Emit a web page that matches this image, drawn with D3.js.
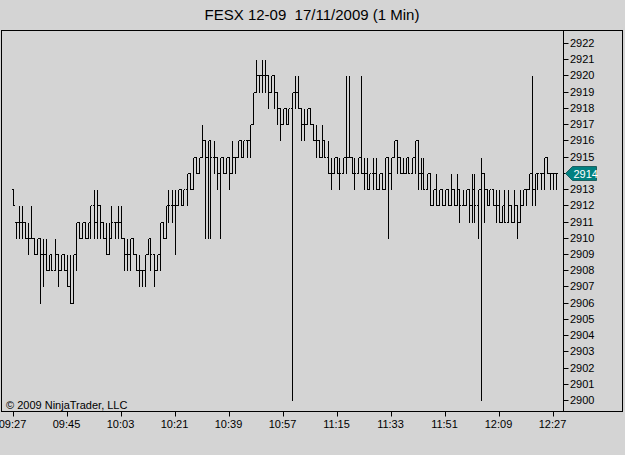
<!DOCTYPE html>
<html>
<head>
<meta charset="utf-8">
<script src="https://cdn.jsdelivr.net/npm/d3@7"></script>
<style>
  body { margin: 0; background: #d4d4d4; }
  svg { display: block; font-family: "Liberation Sans", Arial, sans-serif; }
</style>
</head>
<body>
<div id="chart"></div>
<script>
// 1 minute bars, FESX 12-09, 17/11/2009, first bar at 09:27
const opens = [
  2913,2911,2911,2911,2911,2910,2910,2910,2909,2910,2909,2909,2908,2909,2908,2909,2908,2909,2908,2907,
  2906,2909,2911,2910,2911,2910,2911,2912,2911,2912,2911,2910,2909,2910,2911,2911,2911,2910,2909,2909,
  2910,2909,2908,2908,2908,2909,2910,2909,2908,2909,2911,2910,2912,2912,2912,2912,2913,2912,2913,2914,
  2913,2915,2914,2915,2916,2915,2916,2915,2915,2914,2915,2914,2915,2914,2915,2915,2916,2915,2916,2916,
  2917,2919,2920,2920,2920,2920,2919,2920,2919,2918,2917,2918,2917,2918,2919,2919,2918,2917,2917,2918,
  2917,2916,2916,2915,2916,2915,2914,2914,2915,2914,2914,2915,2915,2915,2914,2914,2915,2914,2914,2913,
  2914,2914,2913,2914,2913,2915,2914,2915,2916,2915,2914,2914,2915,2914,2915,2916,2914,2914,2913,2914,
  2912,2913,2912,2913,2912,2913,2912,2913,2912,2913,2912,2912,2913,2912,2913,2912,2913,2914,2913,2912,
  2913,2912,2912,2911,2912,2911,2912,2911,2912,2911,2912,2913,2913,2914,2913,2914,2914,2914,2915,2914,
  2914,2914
];
const highs = [
  2913,2911,2912,2912,2911,2911,2912,2910,2910,2910,2910,2910,2909,2909,2910,2909,2909,2909,2909,2909,
  2909,2911,2911,2911,2911,2911,2912,2913,2913,2912,2911,2911,2911,2912,2911,2912,2912,2910,2910,2910,
  2910,2909,2909,2908,2909,2910,2910,2909,2909,2911,2911,2912,2913,2913,2913,2913,2913,2913,2914,2914,
  2915,2915,2915,2917,2916,2916,2916,2916,2915,2915,2915,2915,2915,2916,2915,2916,2916,2916,2916,2917,
  2919,2921,2920,2921,2921,2920,2920,2920,2919,2918,2918,2918,2918,2919,2920,2920,2918,2918,2918,2918,
  2917,2917,2916,2917,2916,2916,2915,2915,2915,2915,2915,2920,2920,2915,2915,2915,2920,2915,2915,2914,
  2915,2915,2914,2914,2915,2915,2915,2916,2916,2915,2915,2915,2915,2915,2916,2916,2915,2915,2914,2914,
  2913,2914,2913,2913,2913,2913,2914,2913,2914,2913,2913,2913,2913,2914,2914,2913,2915,2914,2913,2913,
  2913,2913,2913,2912,2913,2913,2912,2913,2912,2913,2913,2913,2914,2920,2914,2914,2914,2915,2915,2914,
  2914,2914
];
const lows = [
  2912,2910,2910,2910,2910,2909,2910,2909,2909,2906,2907,2908,2908,2908,2908,2907,2908,2908,2907,2906,
  2906,2908,2910,2910,2910,2910,2910,2910,2910,2910,2910,2909,2909,2910,2910,2910,2910,2908,2908,2908,
  2909,2908,2907,2907,2907,2909,2908,2907,2908,2908,2910,2910,2911,2911,2909,2912,2912,2912,2912,2913,
  2913,2914,2914,2915,2910,2910,2910,2914,2913,2910,2914,2914,2913,2914,2914,2915,2915,2915,2915,2915,
  2917,2919,2919,2919,2919,2918,2919,2918,2917,2916,2917,2917,2917,2900,2918,2918,2916,2916,2917,2917,
  2916,2915,2915,2915,2915,2914,2913,2914,2914,2913,2914,2914,2915,2914,2913,2914,2914,2913,2913,2913,
  2913,2913,2913,2913,2913,2910,2913,2915,2914,2914,2914,2914,2914,2914,2914,2913,2913,2913,2913,2912,
  2912,2912,2912,2912,2912,2912,2912,2912,2912,2911,2912,2912,2911,2911,2911,2910,2900,2911,2912,2912,
  2912,2911,2911,2911,2911,2911,2911,2911,2910,2911,2912,2912,2913,2912,2912,2913,2913,2913,2914,2913,
  2913,2913
];
const closes = [
  2912,2911,2911,2911,2910,2910,2910,2909,2910,2909,2909,2908,2909,2908,2909,2908,2909,2908,2907,2906,
  2909,2911,2910,2911,2910,2911,2912,2911,2912,2911,2910,2909,2910,2911,2911,2911,2910,2909,2909,2910,
  2909,2908,2908,2908,2909,2910,2909,2908,2909,2911,2910,2912,2912,2912,2912,2913,2912,2913,2914,2913,
  2915,2914,2915,2916,2915,2916,2915,2915,2914,2915,2914,2915,2914,2915,2915,2916,2915,2916,2916,2917,
  2919,2920,2920,2920,2920,2919,2920,2919,2918,2917,2918,2917,2918,2919,2919,2918,2917,2917,2918,2917,
  2916,2916,2915,2916,2915,2914,2914,2915,2914,2914,2915,2915,2915,2914,2914,2915,2914,2914,2913,2914,
  2914,2913,2914,2913,2915,2914,2915,2916,2915,2914,2914,2915,2914,2915,2916,2914,2914,2913,2914,2912,
  2913,2912,2913,2912,2913,2912,2913,2912,2913,2912,2912,2913,2912,2913,2912,2913,2914,2913,2912,2913,
  2912,2912,2911,2912,2911,2912,2911,2912,2911,2912,2913,2913,2914,2913,2914,2914,2914,2915,2914,2914,
  2914,2914
];
const priceTicks = d3.range(2900, 2923);
const timeTicks = ["09:27","09:45","10:03","10:21","10:39","10:57","11:15","11:33","11:51","12:09","12:27"];
const lastPrice = 2914;

const parse = d3.timeParse("%H:%M");
const start = parse("09:27");
const bars = opens.map((o, i) => ({
  t: d3.timeMinute.offset(start, i),
  open: o, high: highs[i], low: lows[i], close: closes[i]
}));

const W = 625, H = 455;
const frame = { left: 1.5, top: 30.5, right: 622.5, bottom: 411.5 };
const axisX = 563.5;

const x = d3.scaleTime().domain([parse("09:27"), parse("12:27")]).range([12.5, 552.5]);
const y = d3.scaleLinear().domain([2900, 2922]).range([400, 43]);

const svg = d3.select("#chart").append("svg")
  .attr("width", W).attr("height", H);

svg.append("rect").attr("width", W).attr("height", H).attr("fill", "#d4d4d4");

// title
svg.append("text")
  .attr("x", 312).attr("y", 20)
  .attr("text-anchor", "middle")
  .attr("font-size", 15)
  .attr("fill", "#000")
  .style("white-space", "pre")
  .text("FESX 12-09  17/11/2009 (1 Min)");

// frame + price axis line
svg.append("rect")
  .attr("x", frame.left).attr("y", frame.top)
  .attr("width", frame.right - frame.left).attr("height", frame.bottom - frame.top)
  .attr("fill", "none").attr("stroke", "#000");
svg.append("line")
  .attr("x1", axisX).attr("x2", axisX)
  .attr("y1", frame.top).attr("y2", frame.bottom)
  .attr("stroke", "#000");

// price axis (the last price label is covered by the marker)
const py = svg.append("g").attr("class", "price-axis");
py.selectAll("line").data(priceTicks).enter().append("line")
  .attr("x1", axisX).attr("x2", axisX + 5)
  .attr("y1", (d) => Math.round(y(d)) + 0.5)
  .attr("y2", (d) => Math.round(y(d)) + 0.5)
  .attr("stroke", "#000");
py.selectAll("text").data(priceTicks.filter((d) => d !== lastPrice)).enter().append("text")
  .attr("x", axisX + 6.5)
  .attr("y", (d) => Math.round(y(d)) + 4)
  .attr("font-size", 11)
  .text((d) => d);

// time axis
const tx = svg.append("g").attr("class", "time-axis");
tx.selectAll("line").data(timeTicks).enter().append("line")
  .attr("x1", (d) => Math.round(x(parse(d))) + 0.5)
  .attr("x2", (d) => Math.round(x(parse(d))) + 0.5)
  .attr("y1", frame.bottom).attr("y2", frame.bottom + 5)
  .attr("stroke", "#000");
tx.selectAll("text").data(timeTicks).enter().append("text")
  .attr("x", (d) => x(parse(d)))
  .attr("y", 428)
  .attr("text-anchor", "middle")
  .attr("font-size", 11)
  .text((d) => d);

// OHLC bars
const g = svg.append("g").attr("stroke", "#000").attr("shape-rendering", "crispEdges");
const bx = (d) => Math.round(x(d.t)) + 0.5;
const yy = (v) => Math.round(y(v)) + 0.5;
g.selectAll(".hl").data(bars).enter().append("line")
  .attr("class", "hl")
  .attr("x1", bx).attr("x2", bx)
  .attr("y1", (d) => yy(d.high)).attr("y2", (d) => yy(d.low) + 0.5);
g.selectAll(".op").data(bars).enter().append("line")
  .attr("class", "op")
  .attr("x1", (d) => bx(d) - 1.5).attr("x2", bx)
  .attr("y1", (d) => yy(d.open)).attr("y2", (d) => yy(d.open));
g.selectAll(".cl").data(bars).enter().append("line")
  .attr("class", "cl")
  .attr("x1", bx).attr("x2", (d) => bx(d) + 1.5)
  .attr("y1", (d) => yy(d.close)).attr("y2", (d) => yy(d.close));

// last price marker
const ly = Math.round(y(lastPrice)) + 0.5;
svg.append("path")
  .attr("d", `M${axisX + 2},${ly} L${axisX + 9},${ly - 7} L${axisX + 33},${ly - 7} L${axisX + 33},${ly + 7} L${axisX + 9},${ly + 7} Z`)
  .attr("fill", "#008080").attr("stroke", "#1f5f5f");
svg.append("text")
  .attr("x", axisX + 10).attr("y", ly + 4)
  .attr("font-size", 11).attr("fill", "#fff")
  .text(lastPrice);

// copyright
svg.append("text")
  .attr("x", 6).attr("y", 409)
  .attr("font-size", 11)
  .text("\u00a9 2009 NinjaTrader, LLC");
</script>
</body>
</html>
